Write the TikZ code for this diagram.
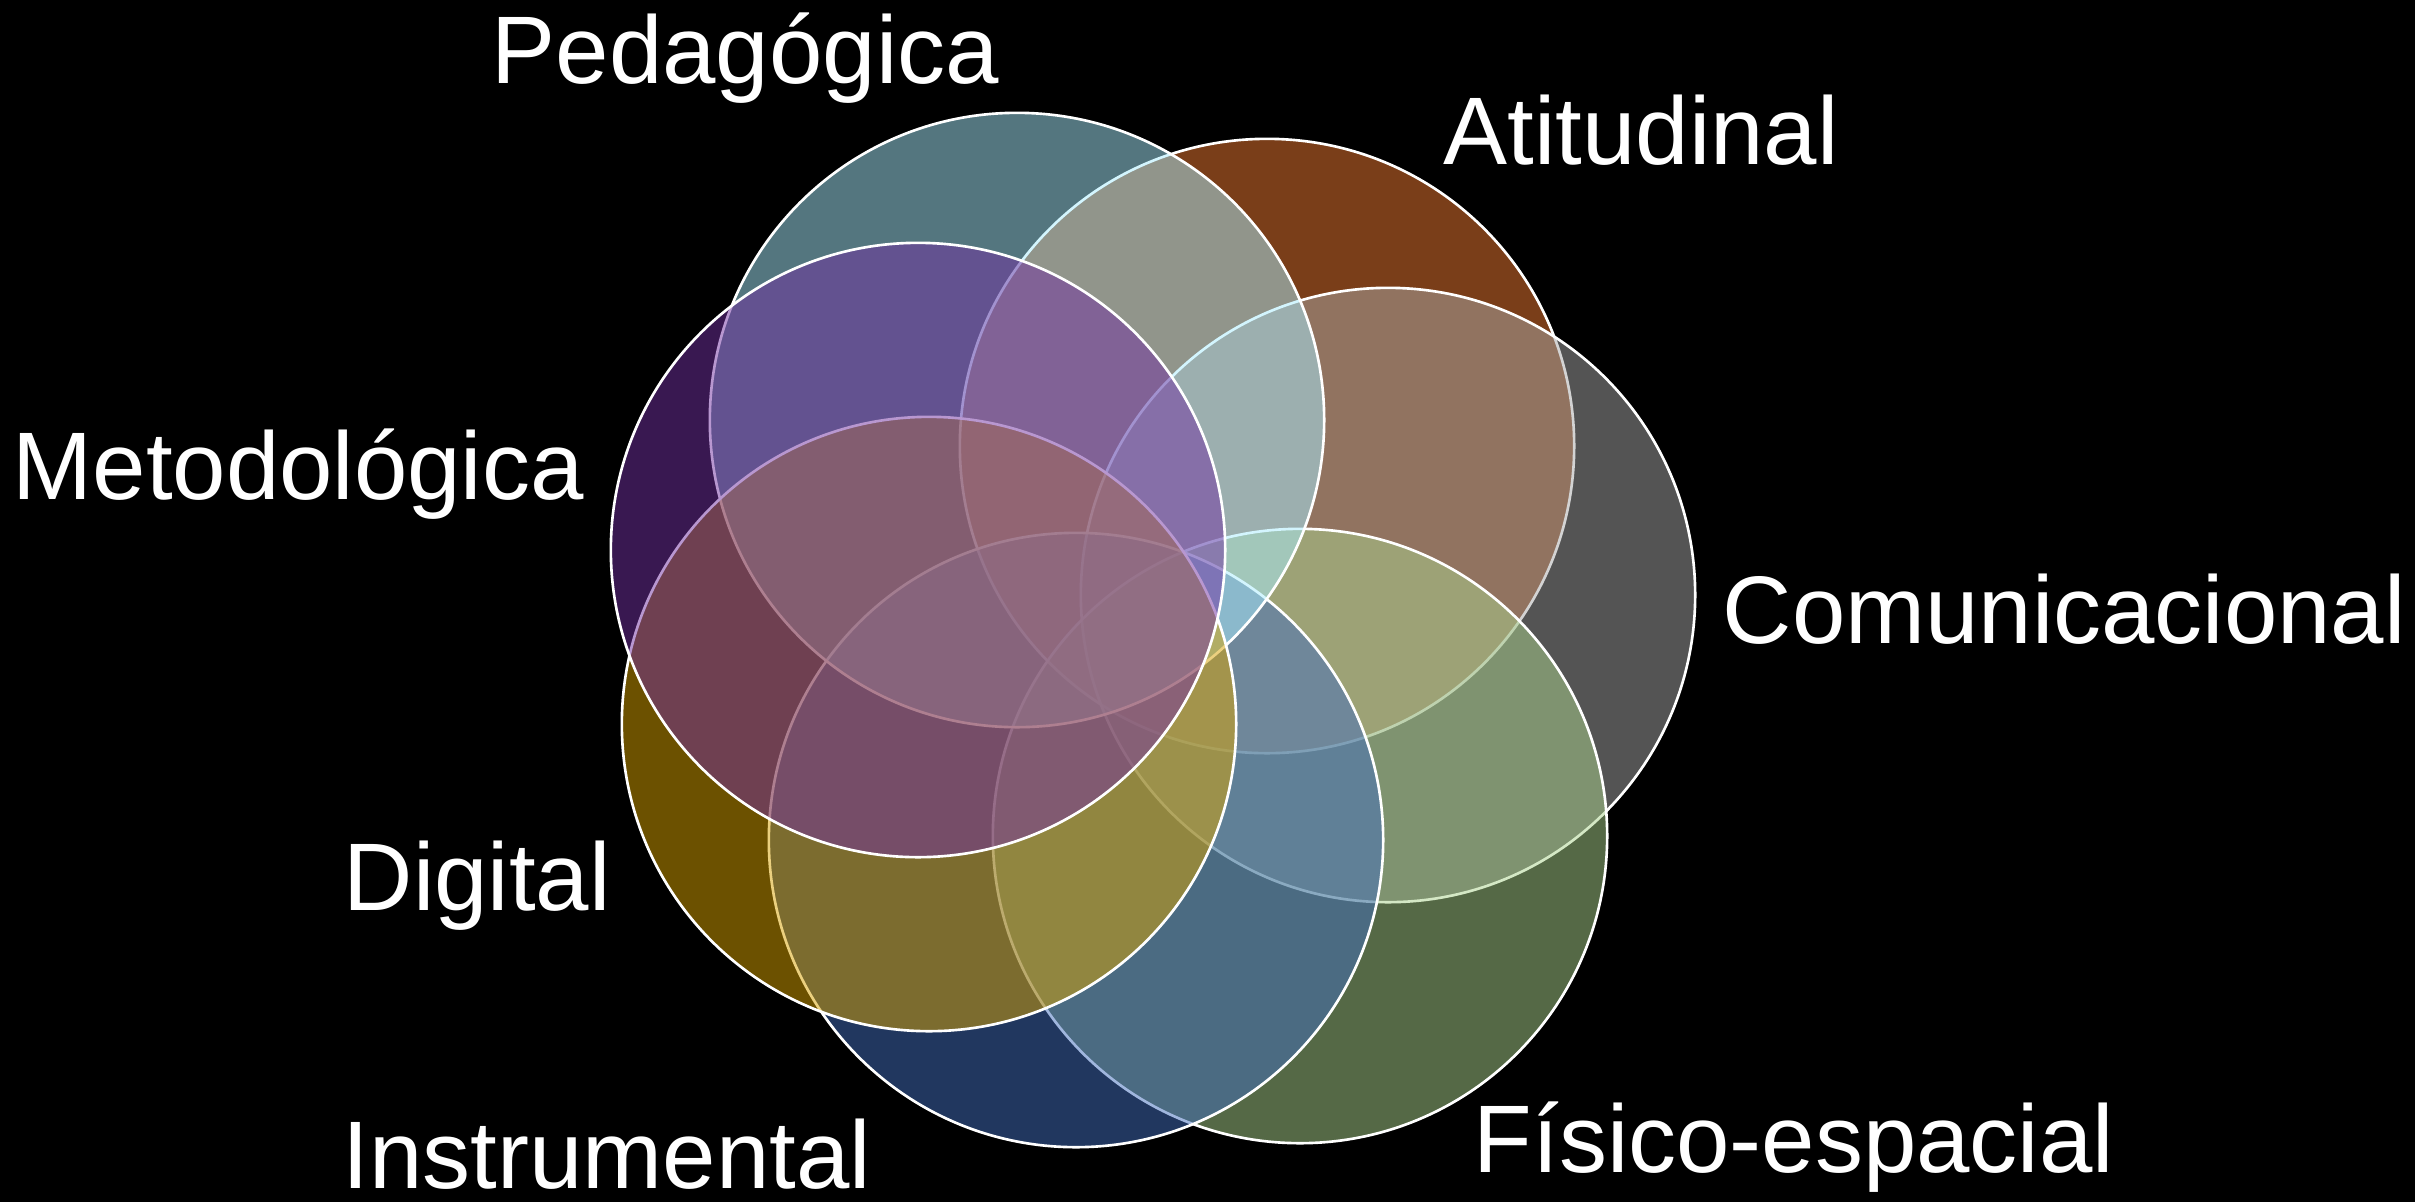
\documentclass[tikz,border=0pt]{standalone}
\usepackage{fontspec}
\setmainfont{Liberation Sans}
\usepackage{tikz}

\definecolor{pedcol}{RGB}{168,236,254}
\definecolor{atitcol}{RGB}{244,124,50}
\definecolor{comcol}{RGB}{168,168,168}
\definecolor{fiscol}{RGB}{170,210,140}
\definecolor{instcol}{RGB}{66,110,190}
\definecolor{digcol}{RGB}{216,162,0}
\definecolor{metcol}{RGB}{114,48,162}

\tikzset{
  area/.style={circle, draw=white, line width=0.75pt, fill opacity=0.5,
               minimum size=6.14cm, inner sep=0pt},
  areaname/.style={text=white, inner sep=0pt, anchor=base west, text depth=0pt,
                   font=\fontsize{27.3}{32}\selectfont}
}

\begin{document}
\begin{tikzpicture}[x=0.01cm, y=-0.01cm]

             \fill[black] (0,0) rectangle (2415,1202);
             \useasboundingbox (0,0) rectangle (2415,1202);

             \node (atit) [area, fill=atitcol] at (1267,446) {};
             \node (com)  [area, fill=comcol]  at (1388,595) {};
             \node (fis)  [area, fill=fiscol]  at (1300,836) {};
             \node (inst) [area, fill=instcol] at (1076,840) {};
             \node (ped)  [area, fill=pedcol]  at (1017,420) {};
             \node (dig)  [area, fill=digcol]  at (929,724) {};
             \node (met)  [area, fill=metcol]  at (918,550) {};

             \node (tped)  [areaname] at (491,83)    {Pedagógica};
             \node (tatit) [areaname] at (1443,164)  {Atitudinal};
             \node (tcom)  [areaname] at (1722,643)  {Comunicacional};
             \node (tfis)  [areaname] at (1473,1172) {Físico-espacial};
             \node (tinst) [areaname] at (342,1188)  {Instrumental};
             \node (tdig)  [areaname] at (343,910)   {Digital};
             \node (tmet)  [areaname] at (12,499)    {Metodológica};

\end{tikzpicture}
\end{document}
